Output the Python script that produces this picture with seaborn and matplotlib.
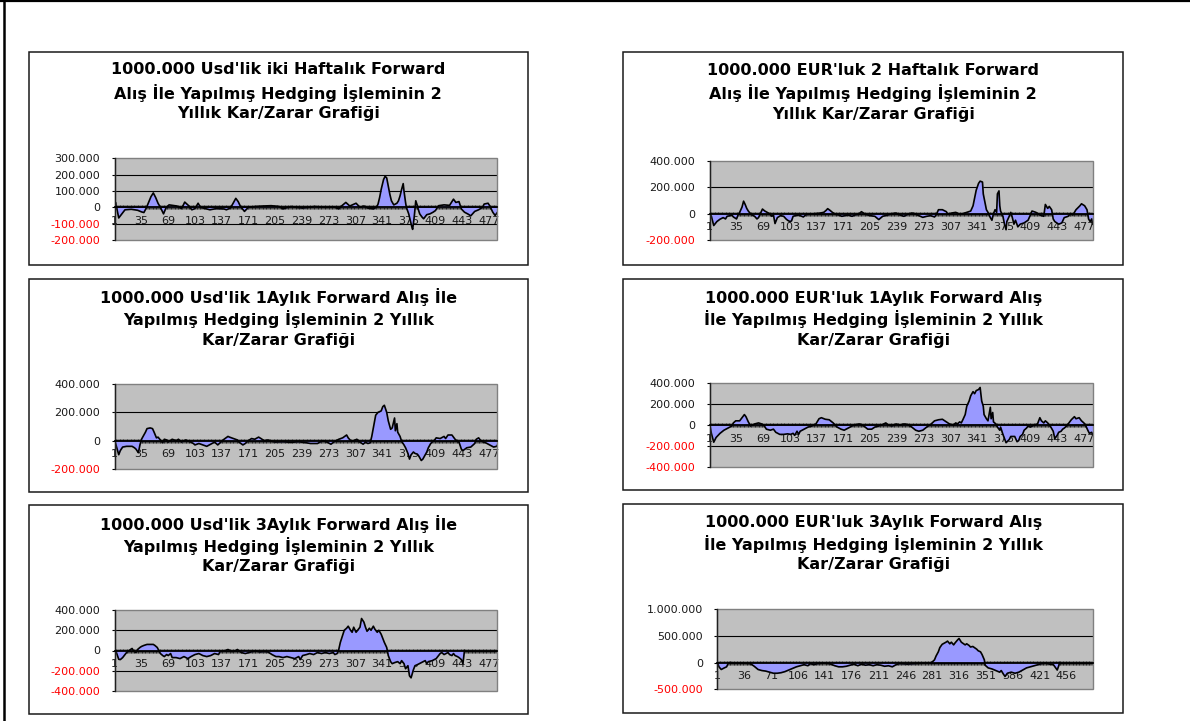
import matplotlib
matplotlib.use("Agg")
import matplotlib.pyplot as plt
from matplotlib.patches import Rectangle
from matplotlib.lines import Line2D
import seaborn as sns

W, H = 1190, 721

# values in thousands (category index -> kar/zarar)
usd_2w_day = [1, 2, 6, 10, 14, 22, 30, 35, 38, 41, 44, 47, 50, 53, 56, 59, 63, 66, 70, 80, 86, 90, 95, 99,
              103, 107, 110, 122, 130, 140, 143, 148, 151, 155, 158, 161, 166, 171, 180, 190, 200, 210,
              215, 225, 240, 255, 270, 280, 286, 290, 295, 300, 308, 313, 318, 323, 330, 334, 336, 338,
              340, 343, 345, 347, 349, 351, 353, 356, 360, 362, 364, 366, 368, 369, 371, 372, 375, 377,
              379, 380, 382, 384, 386, 387, 389, 392, 394, 398, 402, 406, 409, 413, 420, 427, 432, 435,
              439, 442, 446, 450, 454, 459, 464, 469, 471, 476, 478, 482, 485, 488]
usd_2w_val = [15, 30, -65, -40, -15, -12, -18, -28, -32, -5, 30, 65, 88, 60, 25, 0, -40, -5, 15, 8, -8, 32,
              10, -15, -8, 25, 0, -15, -8, -10, -15, -5, 20, 55, 35, 5, -25, 0, 5, 8, 10, 5, -10, 5, -5, 5,
              0, 3, -10, 10, 30, 8, 25, 0, 8, -5, -10, 0, 20, 60, 110, 170, 190, 180, 130, 80, 40, 15, 25,
              40, 70, 110, 145, 100, 30, 0, -40, -80, -120, -135, -60, 40, 10, -10, -40, -60, -70, -45,
              -40, -30, -20, 10, 15, 12, 50, 30, 35, -10, -30, -40, -52, -25, -15, 0, 20, 25, 10, -30,
              -50, -30]

eur_2w_day = [1, 3, 6, 10, 14, 18, 21, 23, 27, 29, 31, 35, 37, 39, 42, 44, 46, 48, 50, 52, 55, 58, 61, 63,
              66, 68, 71, 74, 77, 80, 82, 84, 87, 91, 95, 98, 100, 103, 105, 107, 110, 114, 116, 120,
              123, 126, 135, 140, 146, 149, 151, 154, 157, 161, 165, 169, 173, 177, 182, 186, 190, 194,
              199, 205, 211, 216, 221, 228, 233, 238, 243, 248, 253, 258, 262, 267, 272, 277, 282, 287,
              289, 292, 297, 302, 304, 309, 314, 319, 323, 328, 333, 336, 338, 340, 343, 345, 348, 349,
              351, 353, 355, 358, 360, 362, 364, 366, 367, 369, 370, 371, 374, 376, 378, 379, 382, 384,
              386, 388, 390, 393, 396, 401, 406, 409, 411, 416, 421, 426, 428, 431, 433, 436, 438, 440,
              445, 449, 452, 457, 460, 463, 467, 472, 474, 478, 481, 483, 485, 487, 488]
eur_2w_val = [0, -20, -90, -60, -42, -30, -40, -20, -15, -10, -25, -40, -10, 10, 50, 95, 70, 40, 20, 5, -10,
              -20, -40, -30, 10, 35, 20, 10, 0, -20, -10, -75, -30, -15, -20, -40, -50, -60, -55, -20, -15,
              -10, -15, -25, -10, -5, 0, 3, 10, 25, 38, 25, 10, -5, -10, -20, -15, -10, -20, -10, -5, 15,
              -5, -15, -20, -45, -20, -10, 0, 5, -10, -20, -5, 5, 0, -15, -28, -20, -15, -25, -10, 30, 30,
              15, -5, 5, 10, -5, 0, 10, 20, 60, 120, 178, 230, 247, 240, 150, 90, 30, 10, -30, -50, 0, 30,
              10, 150, 173, 60, 20, -20, -80, -122, -60, -20, 10, -30, -80, -50, -100, -80, -70, -50, -10,
              20, 10, -10, -20, 70, 40, 55, 30, -40, -60, -80, -70, -30, -20, 0, -10, 30, 60, 75, 60, 30,
              -40, -60, -40, -80]

usd_1m_day = [1, 3, 6, 8, 11, 16, 23, 26, 28, 31, 33, 35, 38, 40, 42, 46, 49, 51, 54, 56, 59, 62, 64, 67,
              69, 74, 79, 82, 86, 91, 96, 101, 103, 108, 113, 118, 123, 128, 132, 135, 140, 145, 147, 152,
              157, 159, 164, 167, 171, 175, 179, 184, 187, 191, 196, 201, 205, 215, 225, 235, 245, 250,
              259, 262, 266, 271, 276, 281, 286, 291, 296, 298, 302, 305, 309, 313, 317, 320, 323, 326,
              328, 331, 333, 336, 340, 342, 344, 347, 349, 352, 354, 357, 358, 360, 361, 364, 366, 369,
              371, 374, 376, 378, 381, 383, 386, 388, 391, 393, 396, 398, 400, 403, 405, 408, 410, 415,
              420, 422, 425, 430, 432, 434, 437, 439, 442, 444, 449, 454, 459, 461, 464, 466, 470, 473,
              478, 483, 487, 488]
usd_1m_val = [0, -40, -99, -70, -45, -40, -40, -50, -60, -85, -30, 10, 40, 60, 85, 90, 85, 60, 20, 25, 5,
              -15, 10, 5, -10, 10, 0, 10, -10, 5, -5, -20, -30, -20, -30, -40, -25, -10, -30, -15, 10, 30,
              25, 15, 5, -10, -30, -20, 0, 15, 10, 25, 15, 0, 5, -5, -10, -8, -12, -8, -15, -20, -20, -10,
              0, -10, -25, -5, 10, 20, 40, 20, -5, 0, 10, -10, -25, -10, -20, -15, 30, 120, 180, 200, 210,
              240, 250, 200, 140, 80, 90, 160, 70, 120, 60, 30, -5, -30, -50, -90, -130, -100, -80, -90,
              -95, -110, -140, -130, -100, -80, -50, -20, -10, 5, 20, 15, 30, 15, 40, 40, 25, 10, -5, -10,
              -60, -70, -50, -45, -20, 10, 20, 5, -10, -15, -30, -45, -40, -30]

eur_1m_day = [1, 3, 6, 9, 14, 19, 24, 29, 31, 34, 39, 42, 45, 47, 50, 53, 58, 63, 67, 70, 73, 78, 82, 85,
              90, 95, 100, 104, 107, 109, 112, 114, 116, 121, 126, 131, 136, 140, 143, 148, 153, 158, 163,
              168, 172, 177, 182, 187, 192, 197, 202, 207, 211, 216, 221, 225, 228, 233, 238, 243, 248,
              253, 258, 263, 267, 272, 277, 282, 287, 292, 297, 302, 306, 311, 314, 316, 319, 321, 323,
              326, 328, 331, 333, 336, 338, 340, 343, 345, 347, 349, 350, 353, 355, 358, 359, 361, 362,
              365, 367, 370, 371, 374, 376, 378, 382, 384, 389, 392, 394, 396, 399, 401, 404, 406, 409,
              414, 418, 421, 423, 426, 428, 431, 433, 435, 438, 440, 443, 445, 448, 450, 452, 455, 457,
              461, 465, 467, 471, 474, 477, 479, 482, 484, 487, 488]
eur_1m_val = [0, -80, -165, -120, -80, -50, -30, -10, 20, 40, 40, 70, 100, 80, 30, -10, 10, 20, 10, -5, -40,
              -50, -40, -70, -90, -90, -85, -90, -80, -100, -60, -90, -60, -40, -20, -10, 10, 60, 70, 55,
              50, 20, -20, -40, -50, -30, -10, 5, 10, -10, -40, -40, -20, -10, 5, 20, 0, -10, 10, 0, 10, 5,
              -20, -50, -60, -50, -20, 5, 40, 50, 55, 30, 10, 0, 20, 10, 30, 20, 50, 100, 180, 230, 280,
              320, 300, 330, 340, 360, 230, 180, 100, 60, 40, 170, 60, 120, 30, 10, -20, -50, -20, -90,
              -130, -170, -140, -110, -110, -160, -150, -110, -90, -50, -30, -10, -20, 0, 10, 70, 40, 20,
              40, 20, 0, -20, -60, -130, -100, -70, -60, -40, -30, -10, 10, 50, 80, 60, 70, 40, 20, 0, -50,
              -80, -70, -90]

usd_3m_day = [1, 3, 6, 8, 11, 13, 16, 18, 21, 23, 25, 28, 30, 33, 35, 38, 42, 50, 52, 55, 57, 59, 62, 64,
              67, 69, 72, 74, 79, 84, 89, 94, 98, 103, 108, 113, 118, 123, 128, 133, 135, 142, 145, 150,
              154, 157, 162, 167, 172, 176, 181, 186, 191, 196, 201, 206, 210, 215, 220, 225, 230, 235,
              237, 240, 245, 249, 254, 259, 264, 269, 274, 279, 281, 284, 286, 288, 291, 293, 296, 298,
              301, 303, 305, 308, 310, 313, 315, 318, 320, 322, 325, 327, 330, 332, 335, 337, 340, 342,
              344, 347, 349, 352, 354, 357, 361, 364, 366, 369, 371, 374, 376, 378, 381, 383, 386, 391,
              396, 398, 400, 405, 410, 415, 417, 420, 425, 427, 430, 432, 434, 437, 439, 442, 444, 446]
usd_3m_val = [0, -20, -87, -90, -70, -50, -20, -10, 10, 20, -5, -20, 10, 30, 40, 50, 60, 60, 50, 30, 0, -30,
              -50, -60, -40, -50, -30, -70, -70, -80, -60, -80, -60, -40, -30, -50, -60, -50, -30, -40, -10,
              0, 10, -10, -5, 10, -20, -30, -20, -10, -5, -15, -10, -15, -40, -60, -60, -70, -60, -70, -80,
              -60, -90, -50, -40, -30, -40, -20, -30, -20, -30, -20, -40, -30, 10, 80, 150, 200, 220, 240,
              200, 180, 230, 180, 200, 230, 316, 280, 230, 190, 220, 200, 240, 210, 180, 200, 160, 120, 80,
              30, -50, -110, -130, -120, -110, -130, -100, -130, -180, -150, -250, -270, -190, -150, -140,
              -120, -100, -130, -110, -100, -80, -30, -20, -40, -20, -40, -50, -30, -50, -60, -70, -90,
              -130, 0]

eur_3m_day = [1, 3, 6, 10, 13, 15, 17, 25, 34, 44, 49, 54, 59, 64, 69, 74, 79, 84, 89, 94, 99, 104, 109,
              114, 119, 122, 127, 132, 139, 147, 154, 159, 164, 169, 174, 179, 184, 189, 194, 199, 204,
              209, 214, 219, 224, 229, 234, 239, 249, 259, 269, 279, 281, 284, 286, 289, 291, 294, 299,
              301, 304, 306, 309, 311, 314, 316, 319, 321, 324, 326, 329, 331, 334, 339, 341, 344, 346,
              349, 350, 354, 359, 364, 369, 371, 374, 376, 379, 384, 389, 394, 399, 404, 409, 414, 419,
              424, 429, 434, 439, 441, 444, 446, 447]
eur_3m_val = [0, -80, -130, -100, -80, -20, 0, -10, -10, -20, -70, -130, -150, -160, -180, -200, -200, -190,
              -170, -140, -110, -80, -60, -40, -60, -20, -40, -20, -10, -20, -60, -80, -80, -70, -50, -30,
              -60, -30, -50, -40, -60, -40, -50, -70, -60, -80, -40, -20, -30, -20, -10, -5, 10, 50, 120,
              200, 280, 340, 380, 400, 350, 380, 330, 370, 420, 450, 380, 360, 330, 350, 320, 290, 300,
              250, 220, 200, 150, 50, -50, -100, -120, -150, -180, -150, -220, -260, -200, -180, -200,
              -180, -140, -100, -80, -60, -40, -20, -10, -30, -40, -80, -140, -60, 0]

titles = [
    ["1000.000 Usd'lik iki Haftalık Forward", "Alış İle Yapılmış Hedging İşleminin 2", "Yıllık Kar/Zarar Grafiği"],
    ["1000.000 EUR'luk 2 Haftalık Forward", "Alış İle Yapılmış Hedging İşleminin 2", "Yıllık Kar/Zarar Grafiği"],
    ["1000.000 Usd'lik 1Aylık Forward Alış İle", "Yapılmış Hedging İşleminin 2 Yıllık", "Kar/Zarar Grafiği"],
    ["1000.000 EUR'luk 1Aylık Forward Alış", "İle Yapılmış Hedging İşleminin 2 Yıllık", "Kar/Zarar Grafiği"],
    ["1000.000 Usd'lik 3Aylık Forward Alış İle", "Yapılmış Hedging İşleminin 2 Yıllık", "Kar/Zarar Grafiği"],
    ["1000.000 EUR'luk 3Aylık Forward Alış", "İle Yapılmış Hedging İşleminin 2 Yıllık", "Kar/Zarar Grafiği"],
]
yticks = [
    [-200, -100, 0, 100, 200, 300],
    [-200, 0, 200, 400],
    [-200, 0, 200, 400],
    [-400, -200, 0, 200, 400],
    [-400, -200, 0, 200, 400],
    [-500, 0, 500, 1000],
]
xlabels_34 = [1, 35, 69, 103, 137, 171, 205, 239, 273, 307, 341, 375, 409, 443, 477]
xlabels_35 = [1, 36, 71, 106, 141, 176, 211, 246, 281, 316, 351, 386, 421, 456]
n_days = [488, 488, 488, 488, 488, 490]

series = [(usd_2w_day, usd_2w_val), (eur_2w_day, eur_2w_val), (usd_1m_day, usd_1m_val),
          (eur_1m_day, eur_1m_val), (usd_3m_day, usd_3m_val), (eur_3m_day, eur_3m_val)]
xlabels = [xlabels_34] * 5 + [xlabels_35]

# layout in pixels: chart box, plot area, title line centres
boxes = [(28.7, 51.7, 528, 265), (623.3, 51.7, 1123, 265),
         (28.7, 279.3, 528, 491.7), (623.3, 279.3, 1123, 490),
         (28.7, 505, 528, 714), (623.3, 504, 1123, 712.7)]
plots = [(114.8, 158.3, 497.5, 240), (709.8, 161, 1092.5, 240),
         (114.8, 384, 497.5, 469), (709.8, 383.3, 1092.5, 466.7),
         (114.8, 610, 497.5, 691), (717.4, 609, 1092.5, 689.3)]
title_ys = [(70, 92.7, 113.5), (70.7, 92.7, 115), (296.7, 319.3, 340.7),
            (298, 319, 340.7), (524, 545.7, 566.7), (522.7, 544.3, 565)]

plt.rcParams['font.family'] = ['DejaVu Sans']


def frac(x0, y0, x1, y1):
    return [x0 / W, 1 - y1 / H, (x1 - x0) / W, (y1 - y0) / H]


def fmt(v):
    return f"{v * 1000:,}".replace(",", ".")


fig = plt.figure(figsize=(W / 100, H / 100), dpi=100)
fig.patch.set_facecolor('white')

# page frame (top and left edges only)
fig.add_artist(Line2D([0, 1], [1 - 1 / H, 1 - 1 / H], transform=fig.transFigure, color='black', lw=1.6))
fig.add_artist(Line2D([4.3 / W, 4.3 / W], [0, 1], transform=fig.transFigure, color='black', lw=1.8))

for i in range(6):
    bx = boxes[i]
    fig.add_artist(Rectangle((bx[0] / W, 1 - bx[3] / H), (bx[2] - bx[0]) / W, (bx[3] - bx[1]) / H,
                             transform=fig.transFigure, fill=False, ec='#1a1a1a', lw=1.1))
    cx = (bx[0] + bx[2]) / 2
    for line, ty in zip(titles[i], title_ys[i]):
        fig.text(cx / W, 1 - ty / H, line, ha='center', va='center', fontsize=11.5,
                 fontweight='bold', color='black')

    ax = fig.add_axes(frac(*plots[i]))
    ax.set_facecolor('#C0C0C0')
    day, val = series[i]
    yt = yticks[i]
    n = n_days[i]

    for v in yt[1:-1]:
        ax.axhline(v, color='black', lw=0.8, zorder=1)
    ax.fill_between(day, val, 0, color='#9999FF', lw=0, zorder=2)
    sns.lineplot(x=day, y=val, ax=ax, color='black', lw=1.2, sort=False, estimator=None, zorder=3)
    ax.set_xlabel('')
    ax.set_ylabel('')

    ax.set_xlim(1, n)
    ax.set_ylim(yt[0], yt[-1])
    ax.set_yticks(yt)
    ax.set_yticklabels([fmt(v) for v in yt])
    for lab, v in zip(ax.get_yticklabels(), yt):
        lab.set_color('#ff0000' if v < 0 else '#1a1a1a')

    ax.set_xticks(xlabels[i])
    ax.set_xticklabels([str(v) for v in xlabels[i]])
    ax.set_xticks(list(range(1, n + 1)), minor=True)

    for s in ['top', 'right']:
        ax.spines[s].set_visible(False)
    ax.spines['left'].set_color('#202020')
    ax.spines['left'].set_linewidth(1.0)
    ax.spines['left'].set_zorder(6)
    ax.spines['bottom'].set_position(('data', 0))
    ax.spines['bottom'].set_color('black')
    ax.spines['bottom'].set_linewidth(1.3)
    ax.spines['bottom'].set_zorder(6)
    ax.add_patch(Rectangle((0, 0), 1, 1, transform=ax.transAxes, fill=False, ec='#808080',
                           lw=1.0, clip_on=False, zorder=4))

    ax.tick_params(axis='x', which='both', direction='inout', length=3.5, width=0.4,
                   color='black', labelsize=8, labelcolor='#1a1a1a', pad=4.5)
    ax.tick_params(axis='y', which='major', direction='out', length=2.5, width=0.8,
                   color='black', labelsize=8, pad=8)
    ax.tick_params(axis='y', which='minor', left=False)

fig.savefig('out.png', dpi=100, facecolor='white')
